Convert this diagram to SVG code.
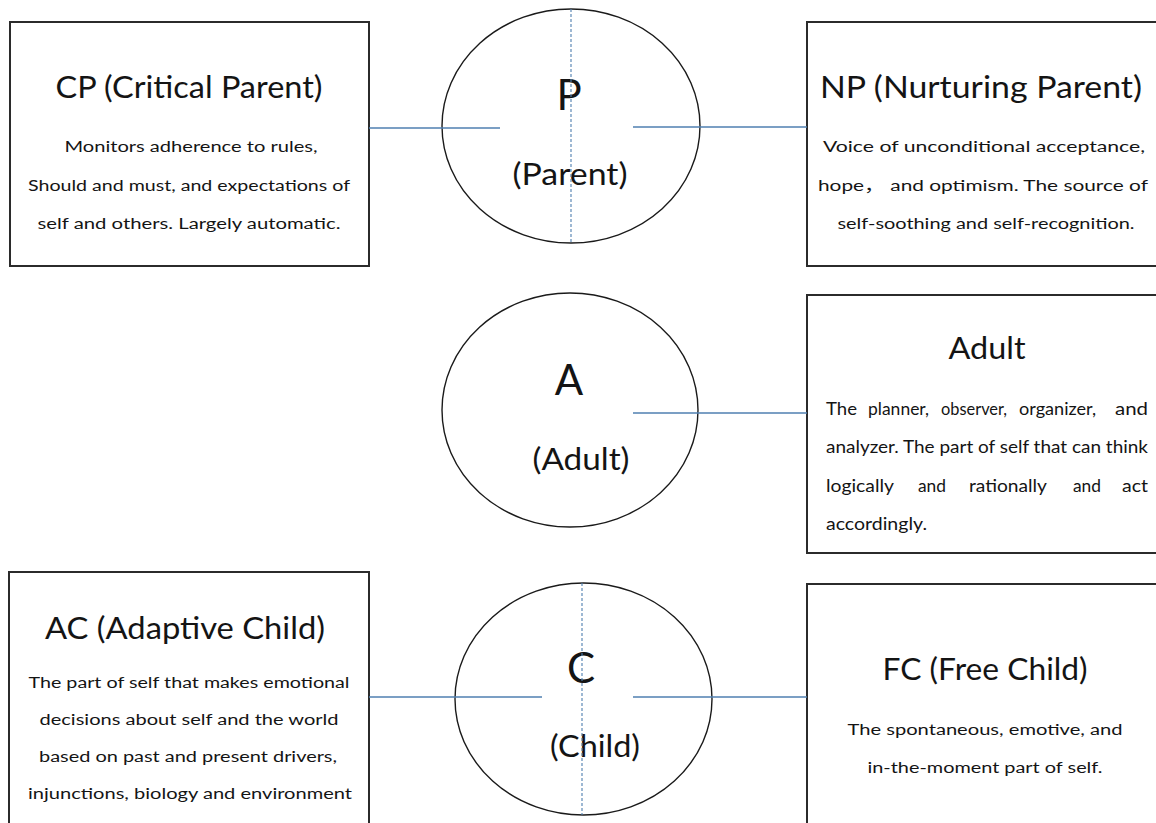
<svg xmlns="http://www.w3.org/2000/svg" width="1156" height="823" viewBox="0 0 1156 823">
<style>
.box{fill:#fff;stroke:#2b2b2b;stroke-width:2}
.ell{fill:#fff;stroke:#1a1a1a;stroke-width:1.4}
.conn{stroke:#4f7fb0;stroke-width:1.3;fill:none}
.dash{stroke:#4f7fb0;stroke-width:1.1;stroke-dasharray:3 2;fill:none}
text{font-family:Lato,"Open Sans","Noto Sans CJK SC",sans-serif;fill:#141414}
.t{font-size:30px;text-anchor:middle}
.b{font-size:15.5px;text-anchor:middle}
.bl{font-size:17px}
.big{font-size:42px;text-anchor:middle}
</style>
<rect width="1156" height="823" fill="#fff"/>
<g id="node-CP">
<rect class="box" x="10" y="22" width="359" height="244"/>
<text class="t" x="189" y="98" textLength="267" lengthAdjust="spacingAndGlyphs">CP (Critical Parent)</text>
<text class="b" x="191" y="152" textLength="253" lengthAdjust="spacingAndGlyphs">Monitors adherence to rules,</text>
<text class="b" x="189" y="191" textLength="322" lengthAdjust="spacingAndGlyphs">Should and must, and expectations of</text>
<text class="b" x="189" y="229" textLength="303" lengthAdjust="spacingAndGlyphs">self and others. Largely automatic.</text>
</g>
<g id="node-NP">
<rect class="box" x="807" y="22" width="360" height="244"/>
<text class="t" x="981" y="98" textLength="322" lengthAdjust="spacingAndGlyphs">NP (Nurturing Parent)</text>
<text class="b" x="984" y="152" textLength="322" lengthAdjust="spacingAndGlyphs">Voice of unconditional acceptance,</text>
<text class="b" x="983" y="191" textLength="330" lengthAdjust="spacingAndGlyphs">hope，  and optimism. The source of</text>
<text class="b" x="986" y="229" textLength="297" lengthAdjust="spacingAndGlyphs">self-soothing and self-recognition.</text>
</g>
<g id="node-Adult">
<rect class="box" x="807" y="295" width="360" height="258"/>
<text class="t" x="987" y="359" textLength="77" lengthAdjust="spacingAndGlyphs">Adult</text>
<text class="bl" x="826" y="415" textLength="31" lengthAdjust="spacingAndGlyphs">The</text>
<text class="bl" x="868" y="415" textLength="61" lengthAdjust="spacingAndGlyphs">planner,</text>
<text class="bl" x="941" y="415" textLength="66" lengthAdjust="spacingAndGlyphs">observer,</text>
<text class="bl" x="1019" y="415" textLength="77" lengthAdjust="spacingAndGlyphs">organizer,</text>
<text class="bl" x="1115" y="415" textLength="33" lengthAdjust="spacingAndGlyphs">and</text>
<text class="bl" x="826" y="453" textLength="322" lengthAdjust="spacingAndGlyphs">analyzer. The part of self that can think</text>
<text class="bl" x="826" y="492" textLength="68" lengthAdjust="spacingAndGlyphs">logically</text>
<text class="bl" x="918" y="492" textLength="28" lengthAdjust="spacingAndGlyphs">and</text>
<text class="bl" x="969" y="492" textLength="78" lengthAdjust="spacingAndGlyphs">rationally</text>
<text class="bl" x="1073" y="492" textLength="28" lengthAdjust="spacingAndGlyphs">and</text>
<text class="bl" x="1122" y="492" textLength="26" lengthAdjust="spacingAndGlyphs">act</text>
<text class="bl" x="826" y="530" textLength="101" lengthAdjust="spacingAndGlyphs">accordingly.</text>
</g>
<g id="node-AC">
<rect class="box" x="9" y="572" width="360" height="260"/>
<text class="t" x="185" y="639" textLength="280" lengthAdjust="spacingAndGlyphs">AC (Adaptive Child)</text>
<text class="b" x="189" y="688" textLength="321" lengthAdjust="spacingAndGlyphs">The part of self that makes emotional</text>
<text class="b" x="189" y="725" textLength="299" lengthAdjust="spacingAndGlyphs">decisions about self and the world</text>
<text class="b" x="188" y="762" textLength="298" lengthAdjust="spacingAndGlyphs">based on past and present drivers,</text>
<text class="b" x="190" y="799" textLength="324" lengthAdjust="spacingAndGlyphs">injunctions, biology and environment</text>
</g>
<g id="node-FC">
<rect class="box" x="807" y="584" width="360" height="260"/>
<text class="t" x="985" y="680" textLength="205" lengthAdjust="spacingAndGlyphs">FC (Free Child)</text>
<text class="b" x="985" y="735" textLength="275" lengthAdjust="spacingAndGlyphs">The spontaneous, emotive, and</text>
<text class="b" x="985" y="773" textLength="235" lengthAdjust="spacingAndGlyphs">in-the-moment part of self.</text>
</g>
<g id="node-P">
<ellipse class="ell" cx="571" cy="126" rx="129" ry="117"/>
<text class="big" x="569" y="110">P</text>
<text class="t" x="570" y="185" textLength="115" lengthAdjust="spacingAndGlyphs">(Parent)</text>
</g>
<g id="node-A">
<ellipse class="ell" cx="570" cy="410" rx="128" ry="117"/>
<text class="big" x="569" y="395">A</text>
<text class="t" x="581" y="470" textLength="97" lengthAdjust="spacingAndGlyphs">(Adult)</text>
</g>
<g id="node-C">
<ellipse class="ell" cx="583.5" cy="699" rx="128.5" ry="116"/>
<text class="big" x="581" y="683">C</text>
<text class="t" x="595" y="757" textLength="90" lengthAdjust="spacingAndGlyphs">(Child)</text>
</g>
<g id="connectors">
<line class="conn" x1="369" y1="128" x2="500" y2="128"/>
<line class="conn" x1="633" y1="127" x2="807" y2="127"/>
<line class="conn" x1="633" y1="413" x2="807" y2="413"/>
<line class="conn" x1="369" y1="697" x2="542" y2="697"/>
<line class="conn" x1="633" y1="697" x2="807" y2="697"/>
<line class="dash" x1="571" y1="9" x2="571" y2="243"/>
<line class="dash" x1="582" y1="583" x2="582" y2="815"/>
</g>
</svg>
